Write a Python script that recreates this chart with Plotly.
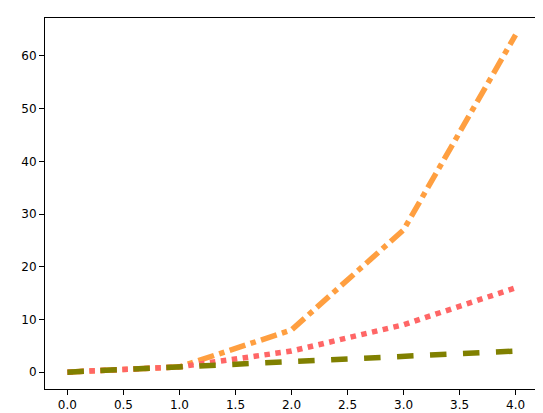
import plotly.graph_objects as go

x = [0, 1, 2, 3, 4]
linear = [0, 1, 2, 3, 4]
square = [0, 1, 4, 9, 16]
cube = [0, 1, 8, 27, 64]

fig = go.Figure()
fig.add_trace(go.Scatter(x=x, y=cube, mode="lines",
                         line=dict(color="#ff9f40", width=5.5, dash="dashdot")))
fig.add_trace(go.Scatter(x=x, y=square, mode="lines",
                         line=dict(color="#ff6666", width=5.5, dash="dot")))
fig.add_trace(go.Scatter(x=x, y=linear, mode="lines",
                         line=dict(color="#808000", width=5.5, dash="dash")))

axis = dict(showgrid=False, zeroline=False, showline=True, mirror=True,
            linecolor="black", linewidth=1, ticks="outside", ticklen=5,
            tickcolor="black", automargin=False,
            tickfont=dict(family="DejaVu Sans", size=12, color="black"))
fig.update_layout(
    width=543, height=413, showlegend=False,
    plot_bgcolor="white", paper_bgcolor="white",
    margin=dict(l=37, r=13, t=10, b=32),
    xaxis=dict(axis, range=[-0.2, 4.2], tickvals=[0, 0.5, 1, 1.5, 2, 2.5, 3, 3.5, 4],
               ticktext=["0.0", "0.5", "1.0", "1.5", "2.0", "2.5", "3.0", "3.5", "4.0"]),
    yaxis=dict(axis, range=[-3.2, 67.2], tickvals=[0, 10, 20, 30, 40, 50, 60]),
)
fig.write_html("out.html")
